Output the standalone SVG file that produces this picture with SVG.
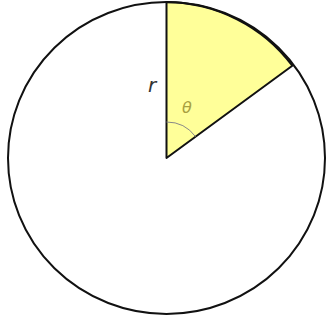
<svg xmlns="http://www.w3.org/2000/svg" width="328" height="320" viewBox="0 0 328 320">
<style>
.outline{fill:none;stroke:#111;stroke-width:2}
.lbl{font-family:"DejaVu Sans",sans-serif;font-style:italic}
</style>
<rect width="328" height="320" fill="#fff"/>
<g id="sector">
<path d="M166.5,158 L166.5,2 A158.5,156 0 0 1 292.3,65.7 Z" fill="#ffff99" stroke="#111" stroke-width="2" stroke-linejoin="round"/>
</g>
<g id="circle">
<ellipse cx="166.5" cy="158" rx="158.5" ry="156" class="outline"/>
</g>
<g id="angle">
<path d="M166.5,122 A36,36 0 0 1 195.5,136.6" fill="none" stroke="#888" stroke-width="1"/>
<text x="187" y="113" class="lbl" font-size="16" fill="#a8a040" text-anchor="middle">θ</text>
</g>
<g id="radius-label">
<text x="152" y="92" class="lbl" font-size="20" fill="#333" text-anchor="middle">r</text>
</g>
</svg>
